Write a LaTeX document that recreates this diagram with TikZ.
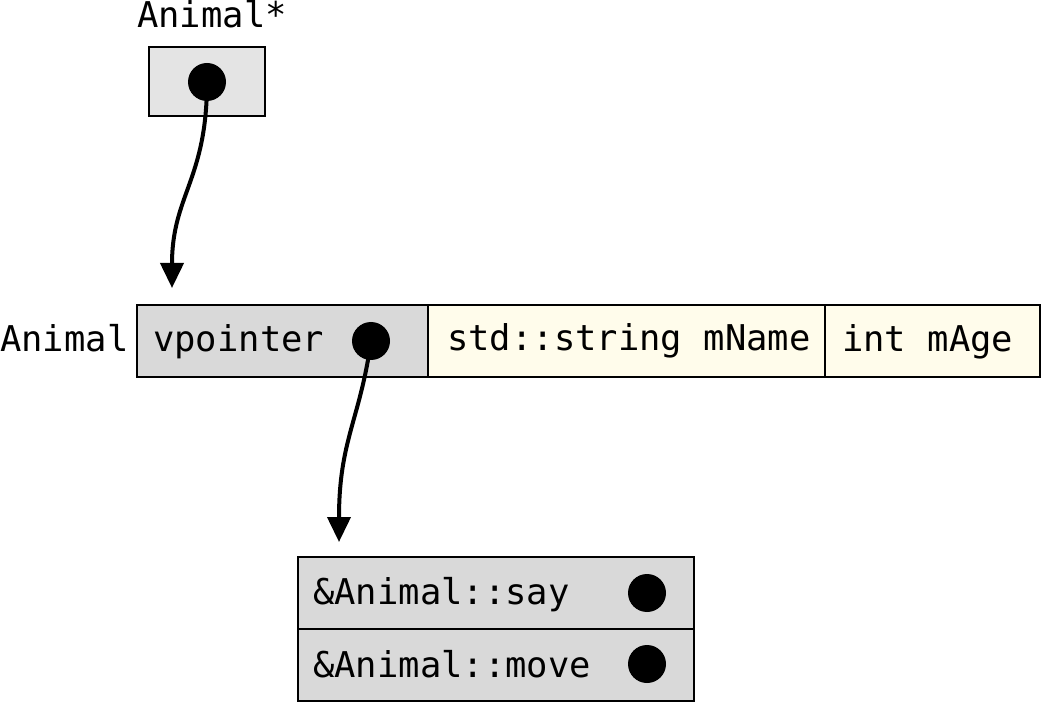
\documentclass[tikz,border=0pt]{standalone}
\usepackage{fontspec}
\setmonofont{DejaVu Sans Mono}
\usetikzlibrary{arrows.meta}
\definecolor{ptrgray}{HTML}{E4E4E4}
\definecolor{cellgray}{HTML}{D9D9D9}
\definecolor{cream}{HTML}{FFFCEB}
\tikzset{
  cell/.style={draw=black, line width=2.4pt, inner sep=0pt, outer sep=0pt, anchor=north west},
  lbl/.style={inner sep=0pt, anchor=base west, font=\ttfamily\fontsize{35.5}{42}\selectfont},
  dot/.style={circle, fill=black, draw=none, minimum size=38pt, inner sep=0pt},
  ptr/.style={line width=4pt, -{Triangle[width=23pt,length=25pt]}}
}
\begin{document}
\begin{tikzpicture}[x=1pt,y=-1pt]
\useasboundingbox (0,0) rectangle (1042,703);
% Animal* pointer
\node[cell, fill=ptrgray, minimum width=116pt, minimum height=69pt] (pbox) at (149,47) {};
\node[lbl] (plbl) at (137,28) {Animal*};
% Animal object
\node[cell, fill=cellgray, minimum width=291pt, minimum height=72pt] (vcell) at (137,305) {};
\node[cell, fill=cream, minimum width=397pt, minimum height=72pt] (ncell) at (428,305) {};
\node[cell, fill=cream, minimum width=215pt, minimum height=72pt] (acell) at (825,305) {};
\node[lbl] (albl) at (0,352) {Animal};
\node[lbl] (vtxt) at (153,352) {vpointer};
\node[lbl] (ntxt) at (447,351) {std::string mName};
\node[lbl] (atxt) at (842,352) {int mAge};
% vtable
\node[cell, fill=cellgray, minimum width=396pt, minimum height=72pt] (say) at (298,557) {};
\node[cell, fill=cellgray, minimum width=396pt, minimum height=72pt] (move) at (298,629) {};
\node[lbl] (saytxt) at (313,604) {\&Animal::say};
\node[lbl] (movetxt) at (313,677) {\&Animal::move};
% connector end points
\coordinate (objtop) at (172,288);
\coordinate (vtbltop) at (339,542);
% pointers
\draw[ptr] (207,82) .. controls (207,180) and (172,195) .. (objtop);
\draw[ptr] (371,341) .. controls (360,420) and (339,440) .. (vtbltop);
\node[dot] (pdot) at (207,82) {};
\node[dot] (vdot) at (371,341) {};
\node[dot] (saydot) at (647,593) {};
\node[dot] (movedot) at (647,664) {};
\end{tikzpicture}
\end{document}
